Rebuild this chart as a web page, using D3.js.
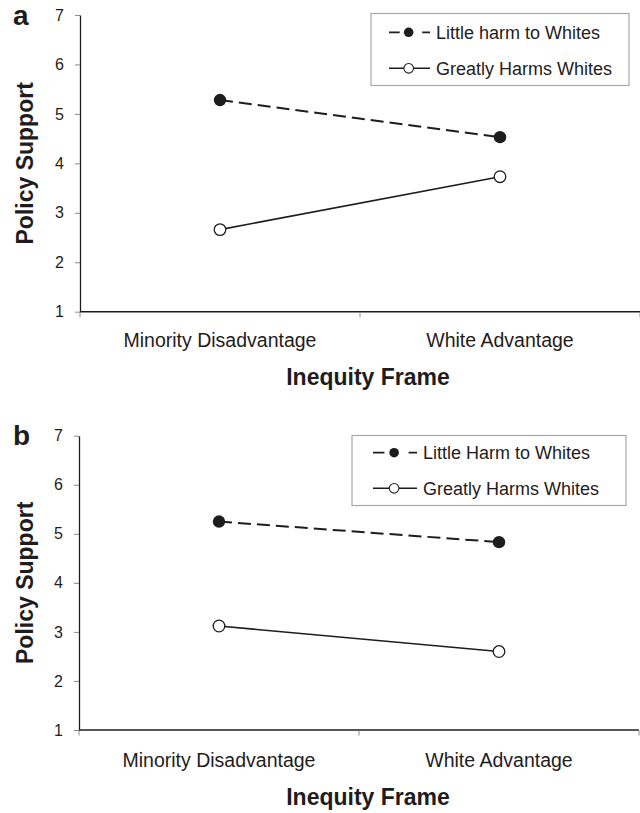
<!DOCTYPE html>
<html>
<head>
<meta charset="utf-8">
<script src="https://cdn.jsdelivr.net/npm/d3@7/dist/d3.min.js"></script>
<style>
  html, body { margin: 0; padding: 0; background: #fff; }
  svg { display: block; font-family: "Liberation Sans", Arial, sans-serif; }
</style>
</head>
<body>
<svg id="chart" width="640" height="813"></svg>
<script>
// ---- data ----
const categories = ["Minority Disadvantage", "White Advantage"];
const yTicks = [1, 2, 3, 4, 5, 6, 7];
const panelLabels = ["a", "b"];
const seriesNamesA = ["Little harm to Whites", "Greatly Harms Whites"];
const seriesNamesB = ["Little Harm to Whites", "Greatly Harms Whites"];
const littleA = [5.28, 4.53];
const greatlyA = [2.66, 3.73];
const littleB = [5.25, 4.83];
const greatlyB = [3.12, 2.60];
const xTitle = "Inequity Frame";
const yTitle = "Policy Support";

// ---- layout ----
const INK = "#1f1c1d";
const panels = [
  { label: panelLabels[0], names: seriesNamesA, little: littleA, greatly: greatlyA,
    x0: 80, x1: 640, yTop: 15, yBot: 311.7,
    leg: { x: 371, y: 13.5, w: 258, h: 72, r1: 32.3, r2: 68.3, lx: 389, lw: 41, tx: 436 },
    catBase: 347, titleBase: 385, labelBase: 25 },
  { label: panelLabels[1], names: seriesNamesB, little: littleB, greatly: greatlyB,
    x0: 79, x1: 639, yTop: 435.7, yBot: 730,
    leg: { x: 352, y: 435.5, w: 274, h: 70, r1: 452.7, r2: 488.3, lx: 373, lw: 44, tx: 423 },
    catBase: 766.5, titleBase: 805, labelBase: 445 }
];

const svg = d3.select("#chart");

panels.forEach(p => {
  const g = svg.append("g");
  const x = d3.scaleBand().domain(categories).range([p.x0, p.x1]);
  const y = d3.scaleLinear().domain([1, 7]).range([p.yBot, p.yTop]);

  // y axis
  const ya = g.append("g").attr("transform", `translate(${p.x0},0)`)
    .call(d3.axisLeft(y).tickValues(yTicks).tickSize(5).tickSizeOuter(0).tickPadding(11).tickFormat(d3.format("d")));
  ya.select(".domain").attr("stroke", INK).attr("stroke-width", 1.3);
  ya.selectAll(".tick line").attr("stroke", "#8a8a8a").attr("stroke-width", 1);
  ya.selectAll(".tick text").attr("fill", INK).style("font-size", "16px")
    .style("font-family", "'Liberation Sans', Arial, sans-serif");

  // x axis line
  g.append("line")
    .attr("x1", x.range()[0]).attr("x2", x.range()[1])
    .attr("y1", y(1)).attr("y2", y(1))
    .attr("stroke", INK).attr("stroke-width", 1.5);
  // x boundary ticks
  const bounds = Array.from(new Set(categories.flatMap(c => [x(c), x(c) + x.bandwidth()])));
  g.selectAll(".xt").data(bounds).join("line")
    .attr("x1", d => d).attr("x2", d => d)
    .attr("y1", y(1) + 0.75).attr("y2", y(1) + 5.5)
    .attr("stroke", "#8a8a8a").attr("stroke-width", 1);
  // category labels
  g.selectAll(".cat").data(categories).join("text")
    .attr("x", d => x(d) + x.bandwidth() / 2)
    .attr("y", p.catBase)
    .attr("text-anchor", "middle")
    .attr("fill", INK)
    .style("font-size", "19.5px")
    .text(d => d);

  // axis titles
  g.append("text")
    .attr("x", 368).attr("y", p.titleBase)
    .attr("text-anchor", "middle").attr("fill", INK)
    .style("font-size", "23px").style("font-weight", "bold")
    .text(xTitle);
  const cy = (p.yTop + p.yBot) / 2;
  g.append("text")
    .attr("transform", `translate(33,${cy}) rotate(-90)`)
    .attr("text-anchor", "middle").attr("fill", INK)
    .style("font-size", "23px").style("font-weight", "bold")
    .text(yTitle);
  // panel label
  g.append("text")
    .attr("x", 13).attr("y", p.labelBase)
    .attr("fill", INK)
    .style("font-size", "28px").style("font-weight", "bold")
    .text(p.label);

  // lines
  const line = d3.line().x((d, i) => x(categories[i]) + x.bandwidth() / 2).y(d => y(d));
  g.append("path").datum(p.little).attr("d", line)
    .attr("fill", "none").attr("stroke", INK).attr("stroke-width", 2)
    .attr("stroke-dasharray", "13,6");
  g.append("path").datum(p.greatly).attr("d", line)
    .attr("fill", "none").attr("stroke", INK).attr("stroke-width", 1.6);

  // markers
  g.selectAll(".mL").data(p.little).join("circle")
    .attr("cx", (d, i) => x(categories[i]) + x.bandwidth() / 2)
    .attr("cy", d => y(d)).attr("r", 6.2)
    .attr("fill", INK);
  g.selectAll(".mG").data(p.greatly).join("circle")
    .attr("cx", (d, i) => x(categories[i]) + x.bandwidth() / 2)
    .attr("cy", d => y(d)).attr("r", 5.8)
    .attr("fill", "#fff").attr("stroke", INK).attr("stroke-width", 1.3);

  // legend
  const L = p.leg;
  g.append("rect").attr("x", L.x).attr("y", L.y).attr("width", L.w).attr("height", L.h)
    .attr("fill", "#fff").attr("stroke", "#a8a8a8").attr("stroke-width", 1.2);
  const rows = [
    { name: p.names[0], yy: L.r1, dashed: true },
    { name: p.names[1], yy: L.r2, dashed: false }
  ];
  rows.forEach(r => {
    const ln = g.append("line")
      .attr("x1", L.lx).attr("x2", L.lx + L.lw)
      .attr("y1", r.yy).attr("y2", r.yy)
      .attr("stroke", INK).attr("stroke-width", r.dashed ? 1.8 : 1.4);
    if (r.dashed) ln.attr("stroke-dasharray", `${L.lw * 0.26},${L.lw * 0.55},${L.lw * 0.19}`);
    const cx = L.lx + L.lw * 0.48;
    g.append("circle").attr("cx", cx).attr("cy", r.yy).attr("r", 4.8)
      .attr("fill", r.dashed ? INK : "#fff")
      .attr("stroke", INK).attr("stroke-width", r.dashed ? 0 : 1.1);
    g.append("text").attr("x", L.tx).attr("y", r.yy).attr("dy", "0.35em")
      .attr("fill", INK).style("font-size", "18px").text(r.name);
  });
});
</script>
</body>
</html>
